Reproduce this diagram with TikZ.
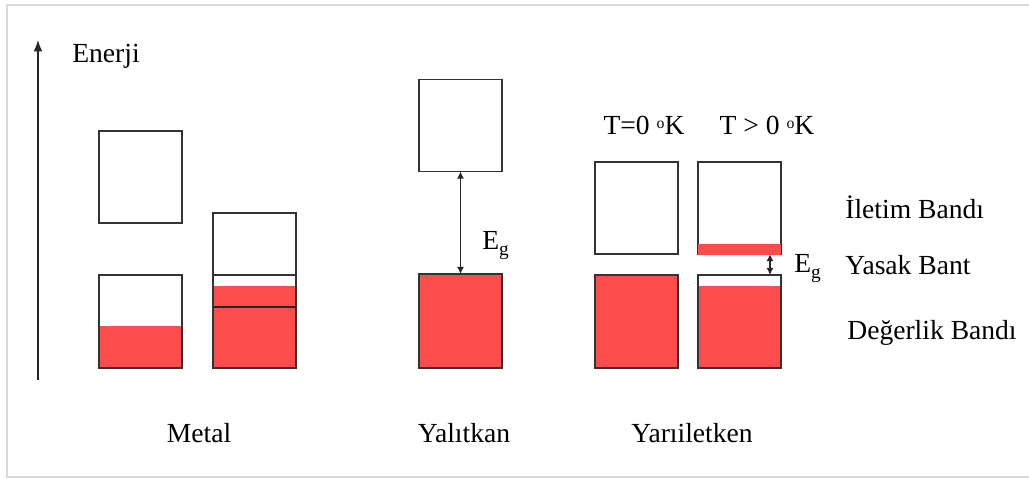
\documentclass[tikz,border=0pt]{standalone}
\usepackage{fontspec}
\setmainfont{Liberation Serif}
\usepackage{xcolor}
\definecolor{bandred}{RGB}{252,76,76}
\definecolor{framegray}{RGB}{218,218,218}
\usetikzlibrary{arrows.meta}

\begin{document}
\begin{tikzpicture}[x=0.02cm, y=-0.02cm,
		>={Latex[length=6.5pt,width=5pt]},   %Pfeilspitzen
		band/.style={draw=black!80, line width=0.85pt, minimum width=1.66cm, inner sep=0pt, outer sep=0pt},
		cband/.style={band, minimum height=1.84cm},
		vband/.style={band, minimum height=1.86cm},
		lbl/.style={font=\fontsize{15.7}{18}\selectfont, inner sep=0pt},
		gap/.style={{Latex[length=4pt,width=4pt]}-{Latex[length=4pt,width=4pt]}, line width=0.8pt, black!85},
		axis/.style={->, line width=0.8pt, black!85}]
	\useasboundingbox (0,0) rectangle (1029,479);
	% Rahmen
	\draw[framegray, line width=0.8pt] (1029,5) -- (7,5) -- (7,477) -- (1029,477);
	% Energieachse
	\coordinate (e0) at (38,380);
	\coordinate (e1) at (38,40);
	\draw[axis] (e0) -- (e1);
	\node[lbl, anchor=base west] (enerji) at (72,63) {Enerji};
	% Metal
	\fill[bandred] (99,326) rectangle (182,368);
	\fill[bandred] (213,286) rectangle (296,368);
	\node[cband] (m1c) at (140.5,177) {};
	\node[vband] (m1v) at (140.5,321.5) {};
	\node[band, minimum height=1.24cm] (m2c) at (254.5,244) {};
	\node[vband] (m2v) at (254.5,321.5) {};
	\draw[black!85, line width=0.85pt] (m2v.west |- 0,307) -- (m2v.east |- 0,307);
	\node[lbl] (metal) at (199,433) {Metal};
	% Yalitkan
	\fill[bandred] (419,274) rectangle (502,368);
	\node[cband] (yc) at (460.5,125.5) {};
	\node[band, minimum height=1.88cm] (yv) at (460.5,321) {};
	\draw[gap] (yc.south) -- (yv.north);
	\node[lbl, anchor=base west] (yeg) at (482,250) {E\raisebox{-0.45ex}{\fontsize{11}{12}\selectfont g}};
	\node[lbl] (yalitkan) at (464,433) {Yalıtkan};
	% Yariiletken
	\fill[bandred] (595,275) rectangle (678,368);
	\fill[bandred] (698,286) rectangle (781,368);
	\node[cband] (s1c) at (636.5,208) {};
	\node[vband] (s1v) at (636.5,321.5) {};
	\node[cband] (s2c) at (739.5,208) {};
	\node[vband] (s2v) at (739.5,321.5) {};
	\fill[bandred] (697.6,244) rectangle (781.4,255);
	\draw[gap] ([xshift=-0.22cm]s2c.south east) -- ([xshift=-0.22cm]s2v.north east);
	\node[lbl, anchor=base west] (seg) at (794,273) {E\raisebox{-0.45ex}{\fontsize{11}{12}\selectfont g}};
	\node[lbl, anchor=base] (t0) at (644,135) {T=0 \raisebox{0.55ex}{\fontsize{9}{10}\selectfont o}K};
	\node[lbl, anchor=base] (t1) at (767,135) {T > 0 \raisebox{0.55ex}{\fontsize{9}{10}\selectfont o}K};
	\node[lbl] (yariiletken) at (692,433) {Yarıiletken};
	% Bandnamen
	\node[lbl, anchor=base west] (iletim) at (845,219) {İletim Bandı};
	\node[lbl, anchor=base west] (yasak) at (845,275) {Yasak Bant};
	\node[lbl, anchor=base west] (degerlik) at (847,340) {Değerlik Bandı};
\end{tikzpicture}
\end{document}
